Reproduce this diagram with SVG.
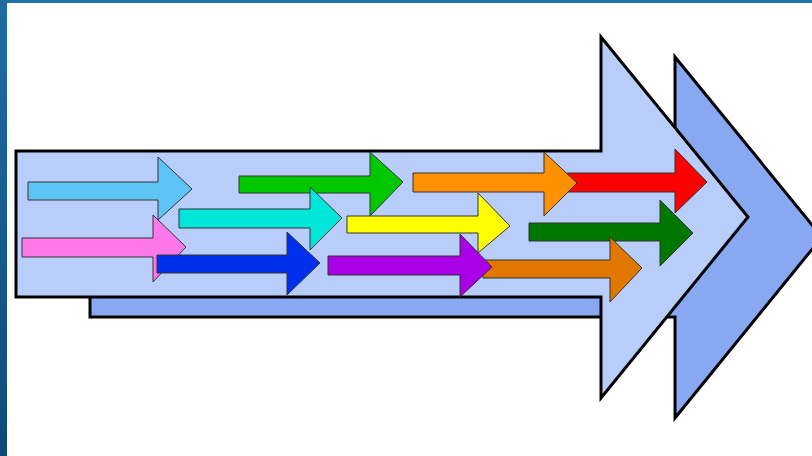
<svg xmlns="http://www.w3.org/2000/svg" width="812" height="456" viewBox="0 0 812 456">
<defs>
<linearGradient id="lg" x1="0" y1="0" x2="0" y2="1">
<stop offset="0" stop-color="#1f6ca3"/>
<stop offset="1" stop-color="#0e4a78"/>
</linearGradient>
</defs>
<style>
.big{stroke:#000;stroke-width:3;stroke-linejoin:miter}
.sh{fill:#111;stroke:none;opacity:0.6}
.ca{stroke:#333;stroke-width:1;stroke-linejoin:miter}
</style>
<rect x="0" y="0" width="812" height="456" fill="#ffffff"/>
<rect x="0" y="0" width="812" height="3" fill="#2270a8"/>
<rect x="0" y="0" width="7" height="456" fill="url(#lg)"/>
<g id="back-arrow">
<polygon class="big" fill="#88a8f2" points="90,171 675,171 675,57 822,237 675,418 675,317 90,317"/>
</g>
<g id="front-arrow">
<polygon class="big" fill="#b8cdfa" points="16,151 601,151 601,37 748,217 601,398 601,297 16,297"/>
</g>
<g id="connectors">
<polygon id="a-sky" class="ca" fill="#5ec4f6" points="28,182 158,182 158,157 192,189 158,220 158,200 28,200"/>
<polygon id="a-green" class="ca" fill="#00c800" points="239,176 370,176 370,152 403,182 370,216 370,193 239,193"/>
<polygon id="a-cyan" class="ca" fill="#00e6d8" points="179,209 310,209 310,187 342,218 310,250 310,228 179,228"/>
<polygon id="a-pink" class="ca" fill="#ff78ea" points="22,238 153,238 153,215 186,247 153,282 153,257 22,257"/>
<polygon id="a-blue" class="ca" fill="#0030ee" points="157,255 287,255 287,232 320,263 287,295 287,273 157,273"/>
<polygon id="a-yellow" class="ca" fill="#ffff00" points="347,216 478,216 478,193 510,226 478,253 478,233 347,233"/>
<polygon id="a-darkgreen" class="ca" fill="#007800" points="529,223 660,223 660,200 693,233 660,266 660,241 529,241"/>
<polygon id="a-darkorange" class="ca" fill="#e07800" points="483,260 610,260 610,237 642,268 610,302 610,278 483,278"/>
<polygon id="a-purple" class="ca" fill="#aa00e8" points="328,256 460,256 460,234 492,267 460,297 460,275 328,275"/>
<polygon id="a-red" class="ca" fill="#ff0000" points="567,173 675,173 675,149 707,182 675,213 675,192 567,192"/>
<polygon id="a-orange" class="ca" fill="#ff9000" points="413,173 544,173 544,152 577,183 544,216 544,192 413,192"/>
</g>
</svg>
